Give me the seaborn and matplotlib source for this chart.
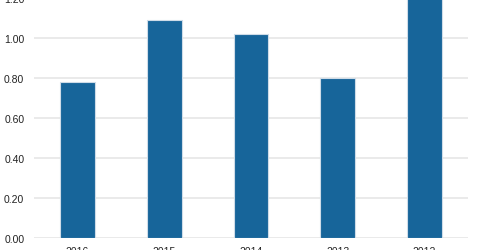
import matplotlib
matplotlib.use("Agg")
import matplotlib.pyplot as plt
import seaborn as sns
import pandas as pd

years = ["2016", "2015", "2014", "2013", "2012"]
values = [0.78, 1.09, 1.02, 0.80, 1.25]
yticks = [0.0, 0.2, 0.4, 0.6, 0.8, 1.0, 1.2]

sns.set_theme(style="white")
plt.rcParams["font.family"] = ["Liberation Sans", "DejaVu Sans"]

df = pd.DataFrame({"year": years, "value": values})

fig = plt.figure(figsize=(4.8, 2.51), dpi=100)
ax = fig.add_axes([34/480, 12/251, 434/480, 240/251])
sns.barplot(data=df, x="year", y="value", color="#17659a", width=0.4,
            saturation=1, edgecolor="#cfdce8", linewidth=0.8, ax=ax, zorder=3)
ax.set_ylim(0, 1.2)
ax.set_xlim(-0.5, 4.5)
ax.set_yticks(yticks)
ax.set_yticklabels([f"{v:.2f}" for v in yticks])
ax.yaxis.grid(True, color="#e6e6e6", linewidth=1.2, zorder=0)
ax.set_axisbelow(True)
for s in ax.spines.values():
    s.set_visible(False)
ax.tick_params(axis="both", length=0, labelsize=7.5, colors="#222222")
ax.tick_params(axis="y", pad=7)
ax.tick_params(axis="x", pad=6)
ax.set_xlabel("")
ax.set_ylabel("")
for b in ax.patches:
    b.set_clip_on(True)
fig.savefig("out.png", dpi=100)
